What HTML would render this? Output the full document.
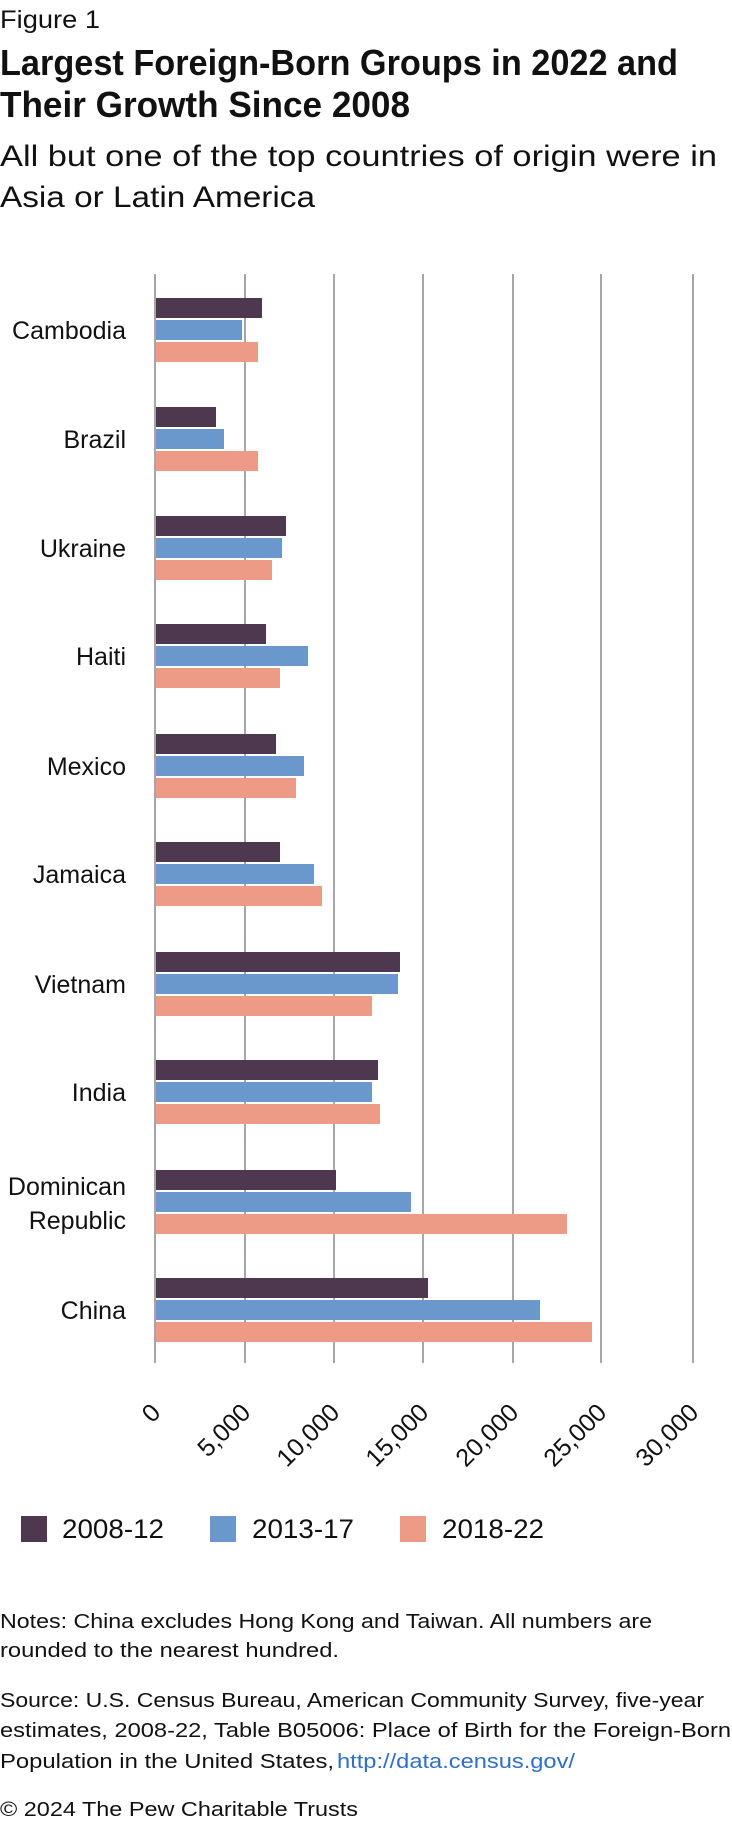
<!DOCTYPE html>
<html><head><meta charset="utf-8"><style>
html,body{margin:0;padding:0;background:#fff;}
svg{display:block;}
text{font-family:"Liberation Sans",sans-serif;fill:#111;}
</style></head><body>
<svg width="732" height="1826" viewBox="0 0 732 1826" xmlns="http://www.w3.org/2000/svg">
<text x="0" y="28" font-size="25" textLength="100" lengthAdjust="spacingAndGlyphs">Figure 1</text>
<text x="0" y="75" font-size="36" font-weight="bold" textLength="678" lengthAdjust="spacingAndGlyphs">Largest Foreign-Born Groups in 2022 and</text>
<text x="0" y="117" font-size="36" font-weight="bold" textLength="410" lengthAdjust="spacingAndGlyphs">Their Growth Since 2008</text>
<text x="0" y="166" font-size="30" textLength="717" lengthAdjust="spacingAndGlyphs">All but one of the top countries of origin were in</text>
<text x="0" y="207" font-size="30" textLength="315" lengthAdjust="spacingAndGlyphs">Asia or Latin America</text>

<g stroke="#a6a6a6" stroke-width="2">
<line x1="155" y1="274" x2="155" y2="1363"/>
<line x1="245" y1="274" x2="245" y2="1363"/>
<line x1="334" y1="274" x2="334" y2="1363"/>
<line x1="423" y1="274" x2="423" y2="1363"/>
<line x1="513" y1="274" x2="513" y2="1363"/>
<line x1="601" y1="274" x2="601" y2="1363"/>
<line x1="693" y1="274" x2="693" y2="1363"/>
</g>

<g id="bars">
<rect x="156" y="298" width="106" height="20" fill="#4e3850"/><rect x="156" y="320" width="86" height="20" fill="#6a98cd"/><rect x="156" y="342" width="102" height="20" fill="#ed9b86"/>
<rect x="156" y="407" width="60" height="20" fill="#4e3850"/><rect x="156" y="429" width="68" height="20" fill="#6a98cd"/><rect x="156" y="451" width="102" height="20" fill="#ed9b86"/>
<rect x="156" y="516" width="130" height="20" fill="#4e3850"/><rect x="156" y="538" width="126" height="20" fill="#6a98cd"/><rect x="156" y="560" width="116" height="20" fill="#ed9b86"/>
<rect x="156" y="624" width="110" height="20" fill="#4e3850"/><rect x="156" y="646" width="152" height="20" fill="#6a98cd"/><rect x="156" y="668" width="124" height="20" fill="#ed9b86"/>
<rect x="156" y="734" width="120" height="20" fill="#4e3850"/><rect x="156" y="756" width="148" height="20" fill="#6a98cd"/><rect x="156" y="778" width="140" height="20" fill="#ed9b86"/>
<rect x="156" y="842" width="124" height="20" fill="#4e3850"/><rect x="156" y="864" width="158" height="20" fill="#6a98cd"/><rect x="156" y="886" width="166" height="20" fill="#ed9b86"/>
<rect x="156" y="952" width="244" height="20" fill="#4e3850"/><rect x="156" y="974" width="242" height="20" fill="#6a98cd"/><rect x="156" y="996" width="216" height="20" fill="#ed9b86"/>
<rect x="156" y="1060" width="222" height="20" fill="#4e3850"/><rect x="156" y="1082" width="216" height="20" fill="#6a98cd"/><rect x="156" y="1104" width="224" height="20" fill="#ed9b86"/>
<rect x="156" y="1170" width="180" height="20" fill="#4e3850"/><rect x="156" y="1192" width="255" height="20" fill="#6a98cd"/><rect x="156" y="1214" width="411" height="20" fill="#ed9b86"/>
<rect x="156" y="1278" width="272" height="20" fill="#4e3850"/><rect x="156" y="1300" width="384" height="20" fill="#6a98cd"/><rect x="156" y="1322" width="436" height="20" fill="#ed9b86"/>
</g>

<g font-size="25" text-anchor="end">
<text x="126" y="339">Cambodia</text>
<text x="126" y="448">Brazil</text>
<text x="126" y="557">Ukraine</text>
<text x="126" y="665">Haiti</text>
<text x="126" y="775">Mexico</text>
<text x="126" y="883">Jamaica</text>
<text x="126" y="993">Vietnam</text>
<text x="126" y="1101">India</text>
<text x="126" y="1195">Dominican</text>
<text x="126" y="1229">Republic</text>
<text x="126" y="1319">China</text>
</g>

<g font-size="25" text-anchor="end">
<text transform="translate(162,1414) rotate(-45)">0</text>
<text transform="translate(252,1414) rotate(-45)">5,000</text>
<text transform="translate(341,1414) rotate(-45)">10,000</text>
<text transform="translate(430,1414) rotate(-45)">15,000</text>
<text transform="translate(520,1414) rotate(-45)">20,000</text>
<text transform="translate(608,1414) rotate(-45)">25,000</text>
<text transform="translate(700,1414) rotate(-45)">30,000</text>
</g>

<rect x="21" y="1516" width="26" height="26" fill="#4e3850"/>
<text x="62" y="1538" font-size="27" textLength="102" lengthAdjust="spacingAndGlyphs">2008-12</text>
<rect x="210" y="1516" width="26" height="26" fill="#6a98cd"/>
<text x="252" y="1538" font-size="27" textLength="102" lengthAdjust="spacingAndGlyphs">2013-17</text>
<rect x="400" y="1516" width="26" height="26" fill="#ed9b86"/>
<text x="442" y="1538" font-size="27" textLength="102" lengthAdjust="spacingAndGlyphs">2018-22</text>

<g font-size="20">
<text x="0" y="1628" textLength="652" lengthAdjust="spacingAndGlyphs">Notes: China excludes Hong Kong and Taiwan. All numbers are</text>
<text x="0" y="1657" textLength="339" lengthAdjust="spacingAndGlyphs">rounded to the nearest hundred.</text>
<text x="0" y="1707" textLength="704" lengthAdjust="spacingAndGlyphs">Source: U.S. Census Bureau, American Community Survey, five-year</text>
<text x="0" y="1737" textLength="731" lengthAdjust="spacingAndGlyphs">estimates, 2008-22, Table B05006: Place of Birth for the Foreign-Born</text>
<text x="0" y="1768" textLength="334" lengthAdjust="spacingAndGlyphs">Population in the United States,</text>
<text x="337" y="1768" textLength="238" lengthAdjust="spacingAndGlyphs" style="fill:#2f6fc9">http://data.census.gov/</text>
<text x="0" y="1816" textLength="358" lengthAdjust="spacingAndGlyphs">© 2024 The Pew Charitable Trusts</text>
</g>
</svg>
</body></html>
